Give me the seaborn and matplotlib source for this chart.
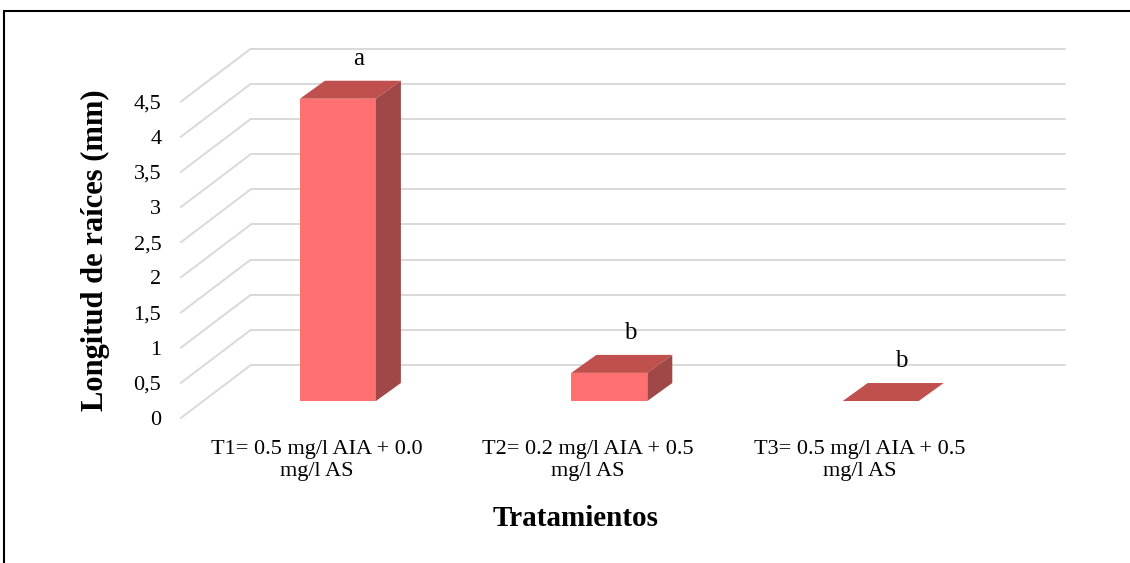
import numpy as np
import pandas as pd
import matplotlib
matplotlib.use("Agg")
import matplotlib.pyplot as plt
import matplotlib.transforms as mtransforms
from matplotlib.patches import Polygon
from matplotlib.lines import Line2D
import seaborn as sns

# data
treatments = ["T1= 0.5 mg/l AIA + 0.0\nmg/l AS",
              "T2= 0.2 mg/l AIA + 0.5\nmg/l AS",
              "T3= 0.5 mg/l AIA + 0.5\nmg/l AS"]
root_length = [4.30, 0.40, 0.0]
letters = ["a", "b", "b"]
y_ticks = [0, 0.5, 1, 1.5, 2, 2.5, 3, 3.5, 4, 4.5]
y_tick_labels = ["0", "0,5", "1", "1,5", "2", "2,5", "3", "3,5", "4", "4,5"]

df = pd.DataFrame({"tratamiento": treatments, "longitud": root_length})

# pseudo 3d look (excel style), offsets in data units
wall_dx, wall_dy = 0.258, 0.754   # back wall relative to front plane
bar_dx, bar_dy = 0.079, 0.242     # bar front face relative to front plane
depth_dx, depth_dy = 0.092, 0.256 # bar depth

front_col = "#FF7171"
top_col = "#C0504D"
side_col = "#A04747"
grid_col = "#D9D9D9"

sns.set_theme(style="white")
plt.rcParams["font.family"] = ["Liberation Serif", "DejaVu Serif"]
plt.rcParams["text.color"] = "black"
plt.rcParams["axes.labelcolor"] = "black"
plt.rcParams["xtick.color"] = "black"
plt.rcParams["ytick.color"] = "black"

fig = plt.figure(figsize=(11.3, 5.63), dpi=100)
ax = fig.add_axes([0.160, 0.2575, 0.7205, 0.5619])

ax.set_xlim(-0.5, 2.5)
ax.set_ylim(0, 4.5)

# gridlines: slanted floor-to-wall segments and back wall lines
for v in y_ticks:
    ax.plot([-0.5, -0.5 + wall_dx], [v, v + wall_dy], color=grid_col,
            lw=1.4, clip_on=False, zorder=0)
    ax.plot([-0.5 + wall_dx, 2.5 + wall_dx], [v + wall_dy, v + wall_dy],
            color=grid_col, lw=1.4, clip_on=False, zorder=0)

sns.barplot(data=df, x="tratamiento", y="longitud", color=front_col,
            saturation=1, width=0.28, linewidth=0, errorbar=None, ax=ax,
            zorder=2)
ax.set_xlim(-0.5, 2.5)
ax.set_ylim(0, 4.5)

shift = mtransforms.Affine2D().translate(bar_dx, bar_dy) + ax.transData
for i, p in enumerate(list(ax.patches)):
    p.set_transform(shift)
    p.set_clip_on(False)
    x0 = p.get_x()
    x1 = x0 + p.get_width()
    h = p.get_height()
    top = Polygon([(x0, h), (x1, h), (x1 + depth_dx, h + depth_dy),
                   (x0 + depth_dx, h + depth_dy)], closed=True,
                  facecolor=top_col, edgecolor="none", transform=shift,
                  clip_on=False, zorder=3)
    side = Polygon([(x1, 0), (x1 + depth_dx, depth_dy),
                    (x1 + depth_dx, h + depth_dy), (x1, h)], closed=True,
                   facecolor=side_col, edgecolor="none", transform=shift,
                   clip_on=False, zorder=3)
    ax.add_patch(top)
    ax.add_patch(side)
    ax.annotate(letters[i], (x0 + (x1 - x0) / 2 + depth_dx / 2 + 0.03,
                             h + depth_dy),
                xycoords=shift, xytext=(0, 8), textcoords="offset points",
                ha="center", va="bottom", fontsize=18, annotation_clip=False)

ax.set_yticks(y_ticks)
ax.set_yticklabels(y_tick_labels)
ax.tick_params(axis="y", length=0, pad=14, labelsize=16)
ax.tick_params(axis="x", length=0, pad=16, labelsize=16)

ax.set_ylabel("Longitud de raíces (mm)", fontsize=22, fontweight="bold")
ax.yaxis.set_label_coords(-0.087, 0.53)
ax.set_xlabel("Tratamientos", fontsize=21, fontweight="bold")
ax.xaxis.set_label_coords(0.485, -0.275)

for s in ax.spines.values():
    s.set_visible(False)
ax.patch.set_alpha(0)

# chart area frame (top and left edges visible in the reference)
fig.add_artist(Line2D([0.0035, 1.0], [0.9805, 0.9805], color="black",
                      lw=1.5, transform=fig.transFigure))
fig.add_artist(Line2D([0.0035, 0.0035], [0.0, 0.9805], color="black",
                      lw=1.5, transform=fig.transFigure))

fig.savefig("out.png", dpi=100, facecolor="white")
